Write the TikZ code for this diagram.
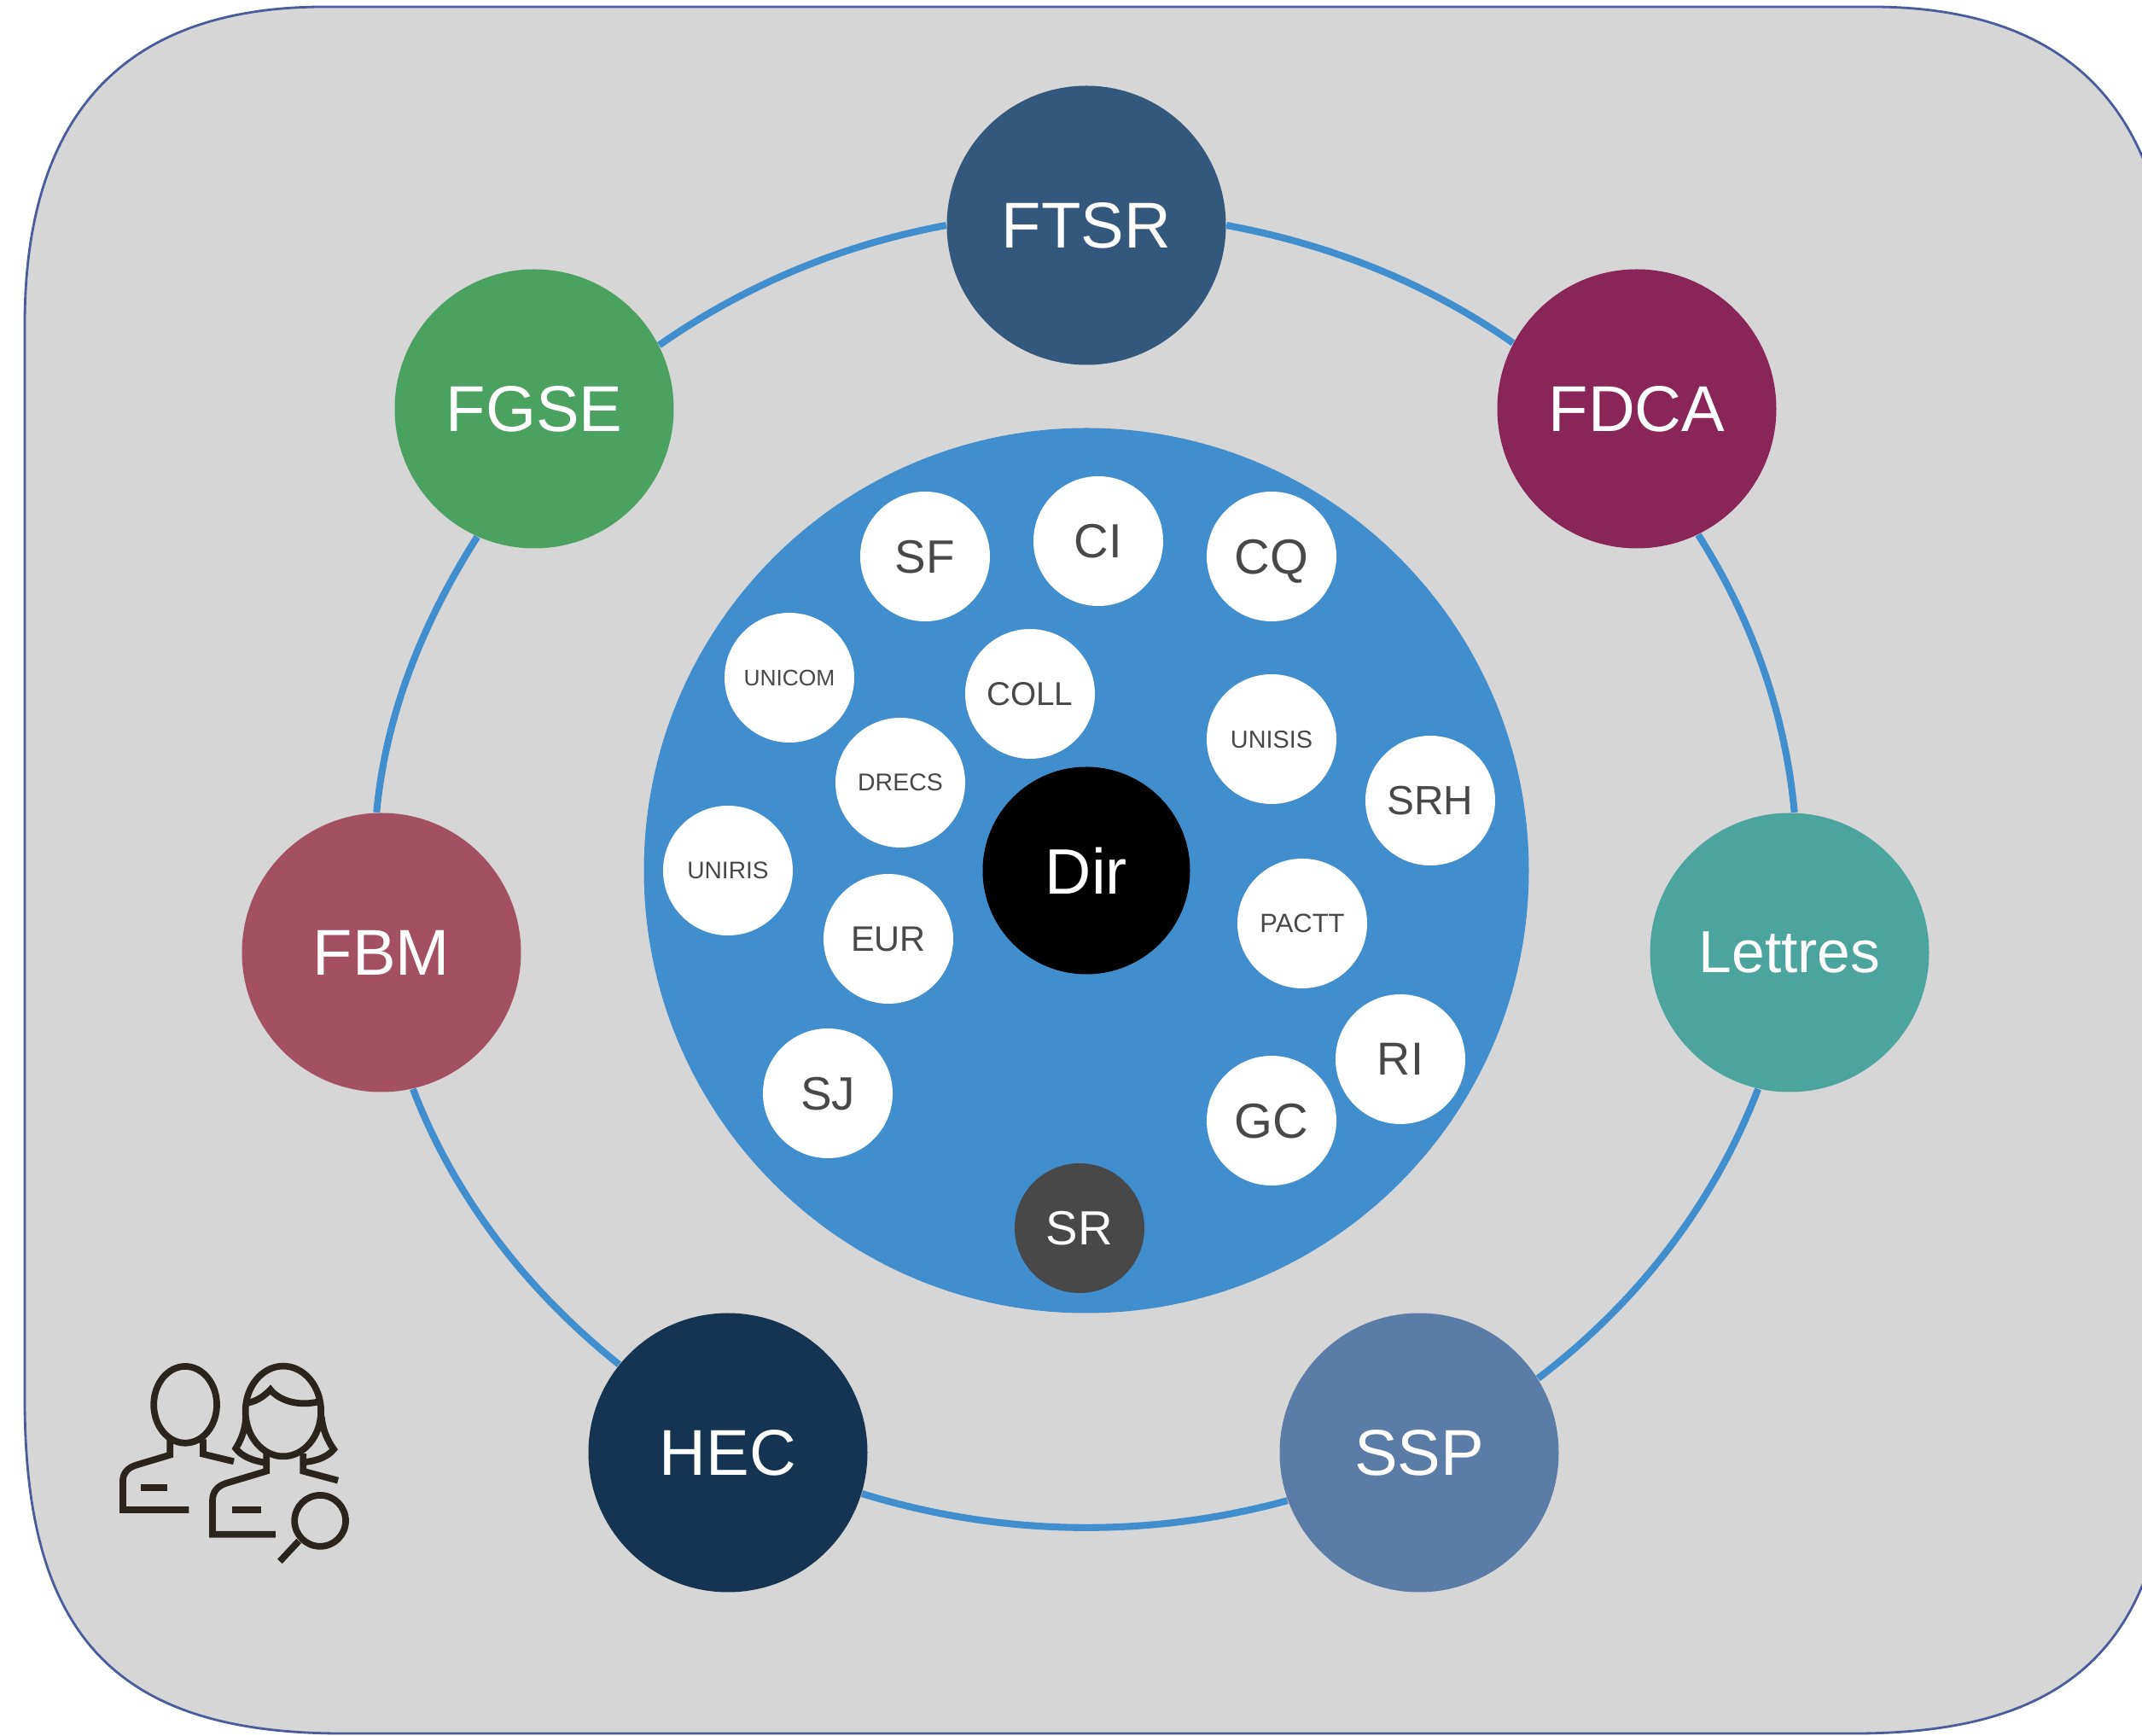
\documentclass[tikz,border=0pt]{standalone}
\usepackage{fontspec}
\setmainfont{Liberation Sans}
\newcommand{\fs}[1]{\fontsize{#1}{#1}\selectfont}
\definecolor{panelgrey}{HTML}{D6D6D6}
\definecolor{panelline}{HTML}{4A5C9C}
\definecolor{ringblue}{HTML}{408ECD}
\definecolor{labelgrey}{HTML}{484848}
\definecolor{iconink}{HTML}{2A241C}
\tikzset{
  faculty/.style={circle,minimum size=3.27cm,inner sep=0pt,text=white,text depth=0pt,font=\fs{21.6}},
  unit/.style={circle,fill=white,minimum size=1.52cm,inner sep=0pt,text=labelgrey,text depth=0pt,font=\fs{16}},
  ring/.style={draw=ringblue,line width=2.3pt,looseness=0.87},
  icon/.style={draw=iconink,line width=2.2pt}
}

\begin{document}
\begin{tikzpicture}
    \useasboundingbox (0,0) rectangle (25.1,20.34);
    \clip (0,0) rectangle (25.1,20.34);

    % Panel
    \draw[fill=panelgrey,draw=panelline,line width=0.8pt] (0.29,16.54) .. controls (0.29,18.94) and (1.40,20.26) .. (3.80,20.26)
      -- (21.94,20.26) .. controls (24.34,20.26) and (25.45,18.94) .. (25.45,16.54)
      -- (25.45,3.94) .. controls (25.45,1.24) and (24.44,0.03) .. (21.74,0.03)
      -- (4.00,0.03) .. controls (1.30,0.03) and (0.29,1.24) .. (0.29,3.94) -- cycle;

    % Centre
    \node[circle,fill=ringblue,minimum size=10.37cm,inner sep=0pt] (core) at (12.73,10.14) {};
    \node[circle,fill=black,minimum size=2.43cm,inner sep=0pt,text=white,text depth=0pt,font=\fs{21.4}] (Dir) at (12.73,10.14) {Dir};

    % Faculties
    \node[faculty,fill={rgb,255:red,52;green,88;blue,124}] (FTSR) at (12.73,17.70) {FTSR};
    \node[faculty,fill={rgb,255:red,138;green,37;blue,87}] (FDCA) at (19.18,15.55) {FDCA};
    \node[faculty,fill={rgb,255:red,76;green,164;blue,158},font=\fs{19.8}] (Lettres) at (20.97,9.18) {Lettres};
    \node[faculty,fill={rgb,255:red,91;green,124;blue,166}] (SSP) at (16.63,3.32) {SSP};
    \node[faculty,fill={rgb,255:red,21;green,52;blue,82}] (HEC) at (8.53,3.32) {HEC};
    \node[faculty,fill={rgb,255:red,163;green,80;blue,99}] (FBM) at (4.47,9.18) {FBM};
    \node[faculty,fill={rgb,255:red,75;green,162;blue,96}] (FGSE) at (6.26,15.55) {FGSE};

    % Ring
    \draw[ring] (FTSR.0) to[out=-10.5,in=145] (FDCA.152);
    \draw[ring] (FDCA.-64) to[out=-57.5,in=95.3] (Lettres.88);
    \draw[ring] (Lettres.-103.5) to[out=-111,in=37.2] (SSP.32.6);
    \draw[ring] (SSP.-160) to[out=195.3,in=-17.2] (HEC.-17);
    \draw[ring] (HEC.141) to[out=141.3,in=-69] (FBM.-77);
    \draw[ring] (FBM.92) to[out=84.7,in=-122.5] (FGSE.-114.8);
    \draw[ring] (FGSE.27.3) to[out=34.9,in=190.5] (FTSR.180);

    % Units
    \node[unit,font=\fs{15.6}] (SF) at (10.84,13.82) {SF};
    \node[unit] (CI) at (12.87,14.00) {CI};
    \node[unit,font=\fs{16.4}] (CQ) at (14.90,13.82) {CQ};
    \node[unit,font=\fs{7.5}] (UNICOM) at (9.25,12.40) {UNICOM};
    \node[unit,font=\fs{11}] (COLL) at (12.07,12.21) {COLL};
    \node[unit,font=\fs{8.1}] (DRECS) at (10.55,11.17) {DRECS};
    \node[unit,font=\fs{8.2}] (UNISIS) at (14.90,11.68) {UNISIS};
    \node[unit,font=\fs{13.6}] (SRH) at (16.76,10.96) {SRH};
    \node[unit,font=\fs{8}] (UNIRIS) at (8.53,10.14) {UNIRIS};
    \node[unit,font=\fs{11.8}] (EUR) at (10.41,9.34) {EUR};
    \node[unit,font=\fs{8.8}] (PACTT) at (15.26,9.52) {PACTT};
    \node[unit,font=\fs{15.4}] (RI) at (16.41,7.93) {RI};
    \node[unit,font=\fs{16.4}] (GC) at (14.90,7.21) {GC};
    \node[unit,font=\fs{15.6}] (SJ) at (9.70,7.53) {SJ};
    \node[unit,fill=labelgrey,text=white] (SR) at (12.65,5.95) {SR};

    % People icon
    \begin{scope}[shift={(1.2,4.64)},x=0.003333cm,y=-0.003333cm]
      \draw[icon] (292,228) ellipse [x radius=111,y radius=135];
      \draw[icon] (238,350) -- (238,405) -- (115,442) .. controls (88,452) and (72,470) .. (72,498) -- (72,598) -- (305,598);
      \draw[icon] (355,350) -- (355,402) -- (463,428);
      \draw[icon] (135,520) -- (227,520);
      \draw[icon] (637,251) ellipse [x radius=133,y radius=159];
      \draw[icon] (510,222) .. controls (550,215) and (575,192) .. (592,175) .. controls (615,205) and (680,240) .. (772,215);
      \draw[icon] (505,270) .. controls (505,310) and (490,350) .. (470,382) .. controls (490,410) and (530,425) .. (572,432);
      \draw[icon] (772,270) .. controls (775,310) and (790,350) .. (815,385) .. controls (795,410) and (760,425) .. (715,430);
      \draw[icon] (578,400) -- (578,462) -- (435,505) .. controls (405,515) and (388,535) .. (388,565) -- (388,685) -- (610,685);
      \draw[icon] (707,400) -- (707,462) -- (830,495);
      \draw[icon] (457,598) -- (560,598);
      \draw[icon] (767,637) circle (90);
      \draw[icon] (692,708) -- (625,780);
    \end{scope}
  \end{tikzpicture}
\end{document}
